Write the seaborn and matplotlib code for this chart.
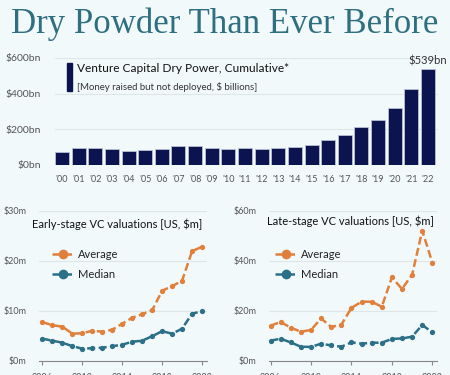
import matplotlib
matplotlib.use("Agg")
import matplotlib.pyplot as plt
import seaborn as sns
import pandas as pd
from matplotlib.lines import Line2D
from matplotlib.patches import Rectangle

# --- data ---
bar_labels = ["'00", "'01", "'02", "'03", "'04", "'05", "'06", "'07", "'08", "'09", "'10",
              "'11", "'12", "'13", "'14", "'15", "'16", "'17", "'18", "'19", "'20", "'21", "'22"]
dry_powder = [72, 98, 94, 89, 80, 82, 91, 106, 104, 98, 91,
              97, 91, 97, 102, 111, 139, 170, 213, 254, 317, 424, 539]

years = list(range(2006, 2023))
early_avg = [7.7, 7.1, 6.8, 5.4, 5.5, 6.0, 5.8, 6.2, 7.4, 8.6, 9.3, 10.1, 14.0, 14.9, 16.0, 21.9, 22.8]
early_med = [4.4, 4.0, 3.6, 2.9, 2.4, 2.5, 2.6, 2.9, 3.2, 3.8, 4.0, 4.9, 5.9, 5.4, 6.4, 9.4, 9.9]
late_avg = [14.0, 15.5, 13.2, 11.6, 12.3, 16.9, 13.5, 14.4, 21.1, 23.6, 23.6, 21.6, 33.3, 28.7, 34.4, 52.0, 39.2]
late_med = [8.0, 8.8, 7.3, 5.6, 5.5, 6.8, 6.1, 5.6, 7.3, 6.8, 7.2, 7.2, 8.7, 8.9, 9.6, 14.3, 11.3]

BG = "#f2f9fa"
NAVY = "#0c1450"
ORANGE = "#e0803d"
TEAL = "#2c7088"
TITLE_C = "#2f6f80"
GRID = "#dfe6e8"
TXT = "#555555"

sns.set_theme(style="white")
plt.rcParams["font.family"] = ["Lato", "DejaVu Sans"]
plt.rcParams["axes.facecolor"] = BG
plt.rcParams["figure.facecolor"] = BG

W, H = 450, 375
fig = plt.figure(figsize=(4.5, 3.75), dpi=100)


def fx(x):
    return x / W


def fy(y):
    return 1 - y / H


fig.text(fx(225), fy(24), "Dry Powder Than Ever Before", ha="center", va="center",
         fontsize=25, color=TITLE_C, family=["Liberation Serif"])

# --- top bar chart ---
ax = fig.add_axes([fx(54.5), fy(165), fx(383.5), 107 / H])
bar_df = pd.DataFrame({"year": bar_labels, "value": dry_powder})
sns.barplot(data=bar_df, x="year", y="value", color=NAVY, width=0.84,
            edgecolor="#b9bfd2", linewidth=0.6, saturation=1, ax=ax)
ax.set_xlim(-0.45, 22.6)
ax.set_ylim(0, 600)
ax.set_yticks([0, 200, 400, 600])
ax.set_yticklabels(["$0bn", "$200bn", "$400bn", "$600bn"])
ax.yaxis.grid(True, color=GRID, lw=0.8)
ax.set_axisbelow(True)
for s in ax.spines.values():
    s.set_visible(False)
ax.set_xlabel("")
ax.set_ylabel("")
ax.tick_params(axis="y", labelsize=7.5, colors=TXT, length=0, pad=10)
ax.tick_params(axis="x", labelsize=6.5, colors=TXT, length=0, pad=7)
ax.text(22, dry_powder[-1] + 12, "$539bn", ha="center", va="bottom", fontsize=8, color="#333333")

fig.add_artist(Rectangle((fx(67), fy(91)), fx(5), 28 / H, color=NAVY, transform=fig.transFigure))
fig.text(fx(77), fy(69), "Venture Capital Dry Power, Cumulative*", ha="left", va="center",
         fontsize=8.6, color="#111111")
fig.text(fx(77), fy(87), "[Money raised but not deployed, $ billions]", ha="left", va="center",
         fontsize=6.9, color="#333333")


# --- bottom line charts ---
def line_panel(left, xlim, avg, med, ymax, yticks, ylabels, title, title_x, title_y, leg_x):
    a = fig.add_axes([fx(left), fy(360.7), fx(168), 150 / H])
    df = pd.DataFrame({"year": years * 2, "value": avg + med,
                       "series": ["Average"] * len(years) + ["Median"] * len(years)})
    sns.lineplot(data=df, x="year", y="value", hue="series", palette=[ORANGE, TEAL],
                 marker="o", markersize=3.8, markeredgewidth=0, linewidth=1.8,
                 legend=False, ax=a)
    for ln in a.lines:
        ln.set_dashes([3.2, 1.4])
    a.set_xlim(*xlim)
    a.set_ylim(0, ymax)
    a.set_yticks(yticks)
    a.set_yticklabels(ylabels)
    a.set_xticks([2006, 2010, 2014, 2018, 2022])
    a.yaxis.grid(True, color=GRID, lw=0.8)
    a.set_axisbelow(True)
    for k in ["top", "right", "left"]:
        a.spines[k].set_visible(False)
    a.spines["bottom"].set_color("#888888")
    a.spines["bottom"].set_linewidth(0.8)
    a.set_xlabel("")
    a.set_ylabel("")
    a.tick_params(axis="y", labelsize=6.5, colors=TXT, length=0, pad=9)
    a.tick_params(axis="x", labelsize=6.5, colors=TXT, length=3, width=0.8,
                  color="#888888", bottom=True, pad=6)
    fig.text(fx(title_x), fy(title_y), title, ha="left", va="center", fontsize=8, color="#111111")
    for name, c, yy in [("Average", ORANGE, 254), ("Median", TEAL, 274)]:
        fig.add_artist(Line2D([fx(leg_x), fx(leg_x + 22)], [fy(yy), fy(yy)], color=c, lw=1.8,
                              dashes=[3.2, 1.4], transform=fig.transFigure))
        fig.add_artist(Line2D([fx(leg_x + 11)], [fy(yy)], color=c, marker="o", markersize=7,
                              markeredgewidth=0, transform=fig.transFigure))
        fig.text(fx(leg_x + 26), fy(yy), name, ha="left", va="center", fontsize=8, color="#222222")
    return a


line_panel(39, (2005.65, 2022.5), early_avg, early_med, 30, [0, 10, 20, 30],
           ["$0m", "$10m", "$20m", "$30m"], "Early-stage VC valuations [US, $m]", 32, 224, 52)
line_panel(269, (2005.85, 2022.46), late_avg, late_med, 60, [0, 20, 40, 60],
           ["$0m", "$20m", "$40m", "$60m"], "Late-stage VC valuations [US, $m]", 267, 221, 275)

fig.savefig("out.png", dpi=100, facecolor=BG)
